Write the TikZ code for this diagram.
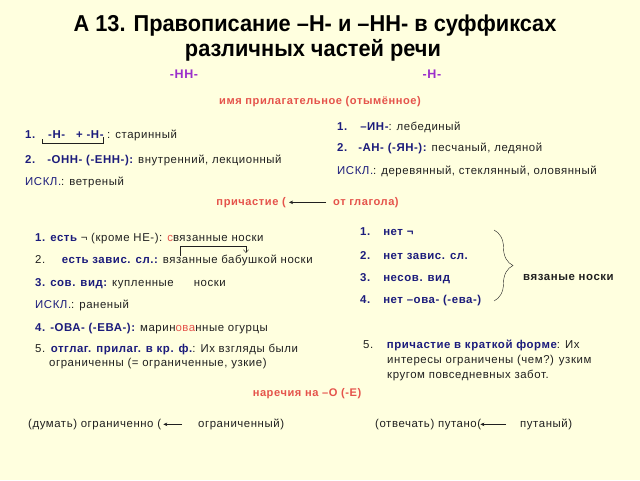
\documentclass[tikz,border=0pt]{standalone}
\usepackage{fontspec}
\setmainfont{Liberation Sans}[LetterSpace=5]
\newfontfamily\titlefont{Liberation Sans}

\usetikzlibrary{arrows.meta,calc,decorations.pathreplacing}

\definecolor{paper}{HTML}{FFFFDF}
\definecolor{navy}{HTML}{1C1C7C}
\definecolor{rosy}{HTML}{E5534B}
\definecolor{violet}{HTML}{9B2FCB}
\definecolor{ink}{HTML}{202020}

\newcommand{\keyw}[1]{\textbf{\textcolor{navy}{#1}}}
\newcommand{\redl}[1]{\textcolor{rosy}{#1}}

\tikzset{
  txt/.style={anchor=base west, inner sep=0pt, text=ink, font=\fontsize{11.4}{13}\selectfont},
  title/.style={anchor=base, inner sep=0pt, text=black, font=\titlefont\bfseries\fontsize{23}{26}\selectfont},
  colhead/.style={anchor=base, inner sep=0pt, text=violet, font=\bfseries\fontsize{12.5}{14}\selectfont},
  head/.style={anchor=base, inner sep=0pt, text=rosy, font=\bfseries\fontsize{11.1}{12}\selectfont},
  arr/.style={->, thin, ink},
  hookln/.style={-{Straight Barb[length=3pt,width=5pt]}, thin, ink},
  bracket/.style={thin, ink},
  bracebig/.style={thin, ink, decorate, decoration={brace, amplitude=19pt}}
}

\begin{document}
\begin{tikzpicture}[x=1pt, y=-1pt, >={Stealth[length=4pt,width=3.5pt]}]
  % background and page size
  \fill[paper] (0,0) rectangle (640,480);
  \useasboundingbox (0,0) rectangle (640,480);

  % title
  \node[title] (title1) at (315,31) {\scalebox{0.947}[1]{А 13. Правописание –Н- и –НН- в суффиксах}};
  \node[title] (title2) at (313,56) {\scalebox{0.947}[1]{различных частей речи}};

  % column heads
  \node[colhead] (nn) at (184,78) {-НН-};
  \node[colhead] (n) at (432,78) {-Н-};

  % adjective
  \node[head] (adj) at (320,104) {имя прилагательное (отымённое)};

  \node[txt] (a1num) at (25,138) {\keyw{1.}};
  \node[txt] (a1suf) at (48,138) {\keyw{-Н-}};
  \node[txt] (a1plus) at (76,138) {\keyw{+ -Н-}};
  \node[txt] (a1ex) at (107,138) {: старинный};
  \draw[bracket] ($(a1suf.base west)+(-6,1)$) -- ++(0,4) -| ($(a1plus.base east)+(-1,-1)$);
  \node[txt] (a2) at (25,163) {\keyw{2.}\hspace{12pt}\keyw{-ОНН- (-ЕНН-):} внутренний, лекционный};
  \node[txt] (a3) at (25,185) {\textcolor{navy}{ИСКЛ.}: ветреный};

  \node[txt] (b1) at (337,130) {\keyw{1.}\hspace{13pt}\keyw{–ИН-}: лебединый};
  \node[txt] (b2) at (337,151) {\keyw{2.}\hspace{11pt}\keyw{-АН- (-ЯН-):} песчаный, ледяной};
  \node[txt] (b3) at (337,174) {\textcolor{navy}{ИСКЛ.}: деревянный, стеклянный, оловянный};

  % participle
  \node[head, anchor=base east] (prich) at (286,205) {причастие (};
  \node[head, anchor=base west] (otgl) at (333,205) {от глагола)};
  \draw[arr] ($(otgl.mid west)+(-7,0)$) -- ($(prich.mid east)+(3,0)$);

  \node[txt] (c1) at (35,241) {\keyw{1. есть} ¬ (кроме НЕ-): \redl{с}вязанные носки};
  \node[txt] (c2) at (35,263) {2.\hspace{16pt}\keyw{есть завис. сл.:} вязанные бабушкой носки};
  \coordinate (hookfrom) at (180,256);
  \coordinate (hookto) at (246,253);
  \draw[hookln] (hookfrom) -- ++(0,-10) -| (hookto);
  \node[txt] (c3) at (35,286) {\keyw{3. сов. вид:} купленные\hspace{20pt}носки};
  \node[txt] (c4) at (35,308) {\textcolor{navy}{ИСКЛ.}: раненый};
  \node[txt] (c5) at (35,331) {\keyw{4. -ОВА- (-ЕВА-):} марин\redl{ова}нные огурцы};
  \node[txt] (c6) at (35,352) {5. \keyw{отглаг. прилаг. в кр. ф.}: Их взгляды были};
  \node[txt] (c7) at (49,366) {ограниченны (= ограниченные, узкие)};

  \node[txt] (d1) at (360,235) {\keyw{1.}\hspace{13pt}\keyw{нет ¬}};
  \node[txt] (d2) at (360,259) {\keyw{2.}\hspace{13pt}\keyw{нет завис. сл.}};
  \node[txt] (d3) at (360,281) {\keyw{3.}\hspace{13pt}\keyw{несов. вид}};
  \node[txt] (d4) at (360,303) {\keyw{4.}\hspace{13pt}\keyw{нет –ова- (-ева-)}};
  \coordinate (bracetop) at (494,230);
  \coordinate (bracebot) at (494,301);
  \draw[bracebig] (bracetop) -- (bracebot);
  \node[txt, font=\bfseries\fontsize{11.4}{13}\selectfont] (vn) at (523,280) {вязаные носки};

  \node[txt] (e1) at (363,348) {5.\hspace{13pt}\keyw{причастие в краткой форме}: Их};
  \node[txt] (e2) at (387,363) {интересы ограничены (чем?) узким};
  \node[txt] (e3) at (387,378) {кругом повседневных забот.};

  % adverbs
  \node[head] (adv) at (307,396) {наречия на –О (-Е)};

  \node[txt] (f1) at (28,427) {(думать) ограниченно (};
  \node[txt] (f2) at (198,427) {ограниченный)};
  \draw[arr] ($(f2.mid west)+(-16,0)$) -- ($(f1.mid east)+(2,0)$);
  \node[txt] (g1) at (375,427) {(отвечать) путано(};
  \node[txt] (g2) at (520,427) {путаный)};
  \draw[arr] ($(g2.mid west)+(-14,0)$) -- ($(g1.mid east)+(-1,0)$);
\end{tikzpicture}
\end{document}
